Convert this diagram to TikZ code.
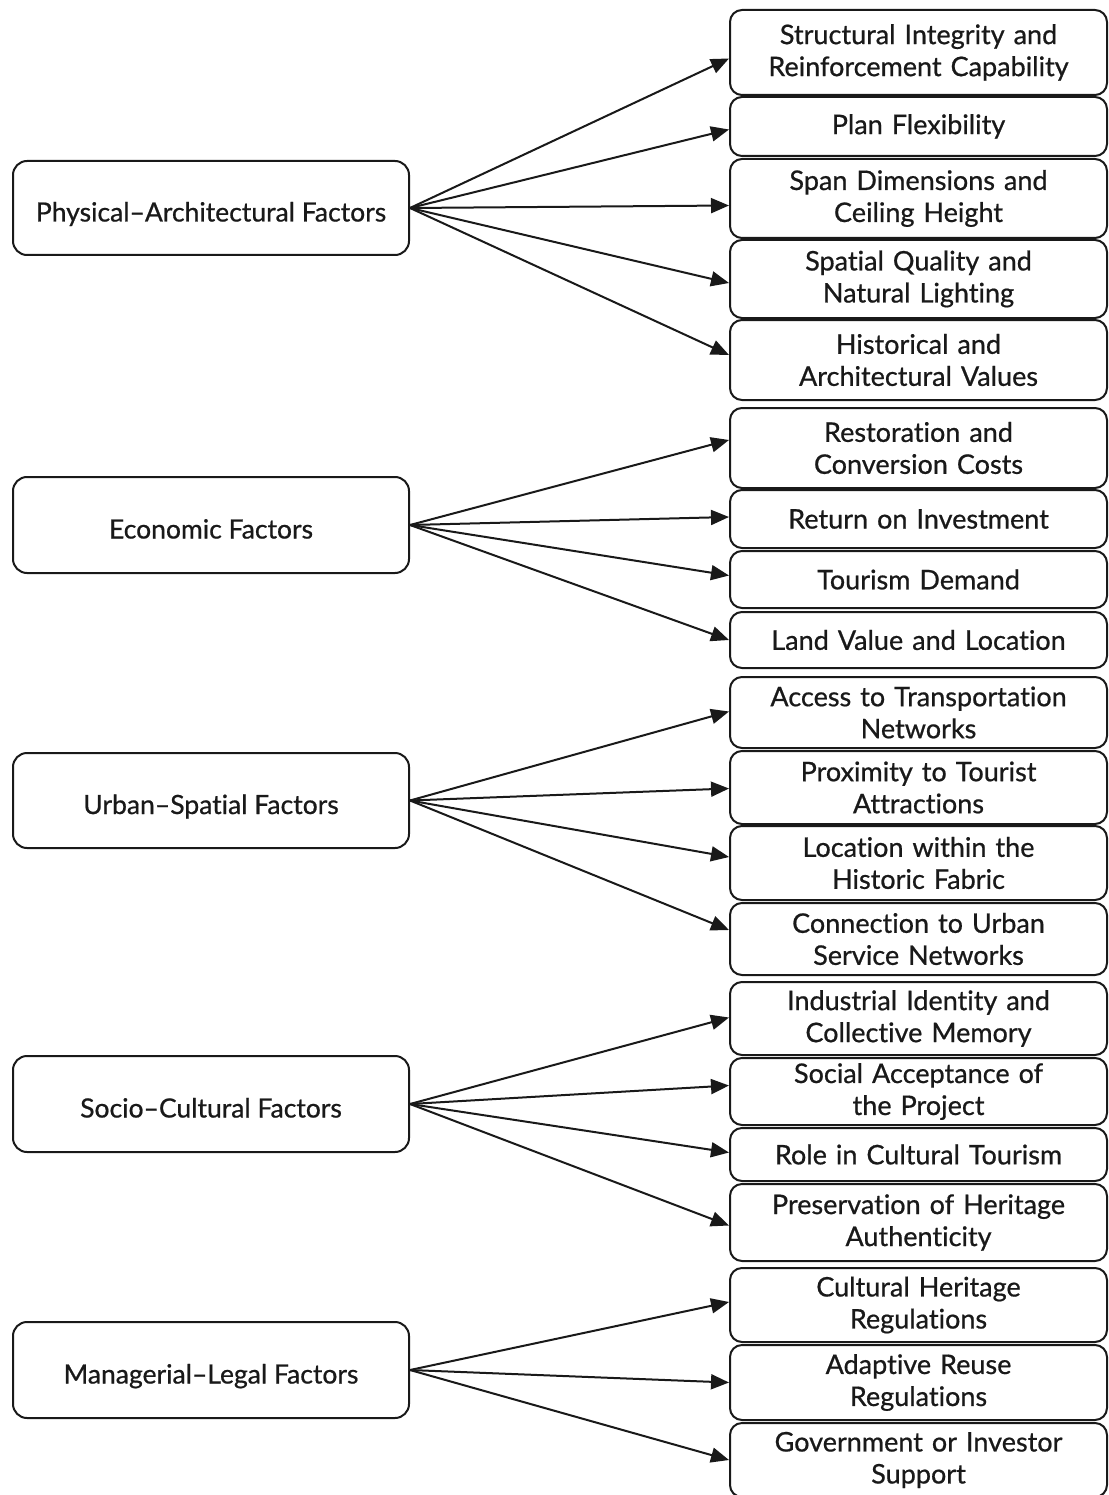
\documentclass[tikz,border=0pt]{standalone}
\usepackage{fontspec}
\setmainfont{Lato}[FakeBold=0.7, Ligatures=NoCommon]
\usetikzlibrary{arrows.meta}
\begin{document}
\begin{tikzpicture}[x=1pt,y=-1pt,
  factor/.style={draw=black!90, line width=2pt, rounded corners=14pt, minimum width=396pt, inner sep=0pt, text=black!90, font=\fontsize{26.5}{30}\selectfont, align=center, text height=27pt, text depth=0pt},
  item/.style={draw=black!90, line width=2pt, rounded corners=12pt, minimum width=377pt, inner sep=0pt, text=black!90, font=\fontsize{27}{32}\selectfont, align=center, text width=374pt},
  link/.style={draw=black!90, line width=2pt, -{Triangle[length=18pt,width=15pt]}}]
\useasboundingbox (0,0) rectangle (1108,1495);

% factor boxes
\node[factor, minimum height=94pt] (f1) at (211,208) {Physical–Architectural Factors};
\node[factor, minimum height=96pt] (f2) at (211,525) {Economic Factors};
\node[factor, minimum height=95pt] (f3) at (211,800.5) {Urban–Spatial Factors};
\node[factor, minimum height=96pt] (f4) at (211,1104) {Socio–Cultural Factors};
\node[factor, minimum height=96pt] (f5) at (211,1370) {Managerial–Legal Factors};

% item boxes
\node[item, minimum height=85pt] (s1) at (918.5,52.5) {Structural Integrity and\\Reinforcement Capability};
\node[item, minimum height=59pt] (s2) at (918.5,126.5) {Plan Flexibility};
\node[item, minimum height=79pt] (s3) at (918.5,198.5) {Span Dimensions and\\Ceiling Height};
\node[item, minimum height=78pt] (s4) at (918.5,279) {Spatial Quality and\\Natural Lighting};
\node[item, minimum height=80pt] (s5) at (918.5,360) {Historical and\\Architectural Values};

\node[item, minimum height=80pt] (s6) at (918.5,448) {Restoration and\\Conversion Costs};
\node[item, minimum height=58pt] (s7) at (918.5,519) {Return on Investment};
\node[item, minimum height=57pt] (s8) at (918.5,579.5) {Tourism Demand};
\node[item, minimum height=56pt] (s9) at (918.5,640) {Land Value and Location};

\node[item, minimum height=71pt] (s10) at (918.5,712.5) {Access to Transportation\\Networks};
\node[item, minimum height=73pt] (s11) at (918.5,787.5) {Proximity to Tourist\\Attractions};
\node[item, minimum height=74pt] (s12) at (918.5,863) {Location within the\\Historic Fabric};
\node[item, minimum height=72pt] (s13) at (918.5,939) {Connection to Urban\\Service Networks};

\node[item, minimum height=73pt] (s14) at (918.5,1018.5) {Industrial Identity and\\Collective Memory};
\node[item, minimum height=67pt] (s15) at (918.5,1091.5) {Social Acceptance of\\the Project};
\node[item, minimum height=53pt] (s16) at (918.5,1154.5) {Role in Cultural Tourism};
\node[item, minimum height=77pt] (s17) at (918.5,1222.5) {Preservation of Heritage\\Authenticity};

\node[item, minimum height=74pt] (s18) at (918.5,1305) {Cultural Heritage\\Regulations};
\node[item, minimum height=75pt] (s19) at (918.5,1382.5) {Adaptive Reuse\\Regulations};
\node[item, minimum height=74pt] (s20) at (918.5,1460) {Government or Investor\\Support};

% connectors
\draw[link] (f1.east) -- ([yshift=-6pt]s1.west);
\draw[link] (f1.east) -- ([yshift=-3pt]s2.west);
\draw[link] (f1.east) -- ([yshift=-7pt]s3.west);
\draw[link] (f1.east) -- ([yshift=-4pt]s4.west);
\draw[link] (f1.east) -- ([yshift=5pt]s5.west);

\draw[link] (f2.east) -- ([yshift=8pt]s6.west);
\draw[link] (f2.east) -- ([yshift=2pt]s7.west);
\draw[link] (f2.east) -- ([yshift=4pt]s8.west);
\draw[link] (f2.east) -- (s9.west);

\draw[link] (f3.east) -- ([yshift=1pt]s10.west);
\draw[link] (f3.east) -- ([yshift=-1pt]s11.west);
\draw[link] (f3.east) -- ([yshift=6pt]s12.west);
\draw[link] (f3.east) -- ([yshift=9pt]s13.west);

\draw[link] (f4.east) -- ([yshift=1pt]s14.west);
\draw[link] (f4.east) -- ([yshift=6pt]s15.west);
\draw[link] (f4.east) -- ([yshift=2pt]s16.west);
\draw[link] (f4.east) -- ([yshift=-3pt]s17.west);

\draw[link] (f5.east) -- ([yshift=3pt]s18.west);
\draw[link] (f5.east) -- (s19.west);
\draw[link] (f5.east) -- (s20.west);
\end{tikzpicture}
\end{document}
